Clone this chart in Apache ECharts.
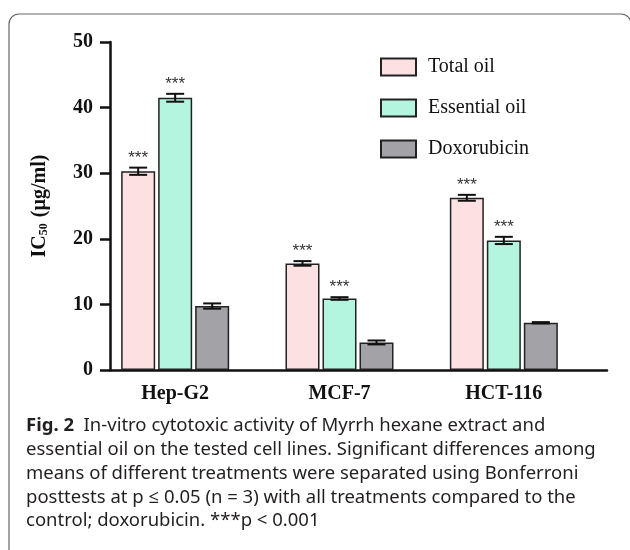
<!DOCTYPE html>
<html lang="en">
<head>
    <meta charset="UTF-8">
    <title>IC50</title>
    <script src="https://cdn.jsdelivr.net/npm/echarts@6/dist/echarts.min.js"></script>
    <style>
        html, body { margin: 0; padding: 0; background: #fff; }
        #main { width: 630px; height: 550px; }
    </style>
</head>
<body>
<div id="main"></div>
<script>
    // data
    var categories = ['Hep-G2', 'MCF-7', 'HCT-116'];
    var totalOil = [30.3, 16.25, 26.25];
    var essentialOil = [41.5, 10.9, 19.75];
    var doxorubicin = [9.75, 4.2, 7.2];
    var totalOilErr = [0.55, 0.35, 0.45];
    var essentialOilErr = [0.6, 0.2, 0.55];
    var doxorubicinErr = [0.4, 0.3, 0.1];
    var totalOilSig = ['***', '***', '***'];
    var essentialOilSig = ['***', '***', '***'];
    var doxorubicinSig = ['', '', ''];
    var yTicks = [0, 10, 20, 30, 40, 50];

    var captionLines = [
        '{b|Fig. 2}  In-vitro cytotoxic activity of Myrrh hexane extract and',
        'essential oil on the tested cell lines. Significant differences among',
        'means of different treatments were separated using Bonferroni',
        'posttests at p \u2264 0.05 (n = 3) with all treatments compared to the',
        'control; doxorubicin. ***p < 0.001'
    ];

    var serif = '"Liberation Serif", "Times New Roman", serif';
    var capFont = '"Noto Sans", "Open Sans", sans-serif';
    var barW = 34, barGapPx = 3;

    function errData(vals, errs, sig) {
        var out = [];
        for (var i = 0; i < vals.length; i++) {
            out.push([i, vals[i], errs[i], sig[i]]);
        }
        return out;
    }

    function makeErr(slot) {
        return function (params, api) {
            var c = api.coord([api.value(0), api.value(1)]);
            var x = c[0] + slot * (barW + barGapPx);
            var e = api.value(2);
            var top = api.coord([api.value(0), api.value(1) + e])[1];
            var bot = api.coord([api.value(0), api.value(1) - e])[1];
            var st = { stroke: '#111', lineWidth: 2 };
            var kids = [
                { type: 'line', shape: { x1: x, y1: top, x2: x, y2: bot }, style: st },
                { type: 'line', shape: { x1: x - 9, y1: top, x2: x + 9, y2: top }, style: st },
                { type: 'line', shape: { x1: x - 9, y1: bot, x2: x + 9, y2: bot }, style: st }
            ];
            var s = api.value(3);
            if (s) {
                kids.push({
                    type: 'text',
                    style: {
                        text: s, x: x, y: top - 1,
                        align: 'center', verticalAlign: 'bottom',
                        font: '17px "Liberation Sans", Arial, sans-serif',
                        fill: '#333'
                    }
                });
            }
            return { type: 'group', children: kids };
        };
    }

    var myChart = echarts.init(document.getElementById('main'));

    var graphics = [
        {
            type: 'rect',
            shape: { x: 9, y: 14, width: 622, height: 560, r: 10 },
            style: { fill: 'none', stroke: '#666', lineWidth: 1.2 },
            z: -10
        }
    ];
    for (var i = 0; i < captionLines.length; i++) {
        graphics.push({
            type: 'text',
            x: 26,
            y: 426 + i * 23.8,
            style: {
                text: captionLines[i],
                font: '18.5px ' + capFont,
                fill: '#231f20',
                verticalAlign: 'middle',
                rich: {
                    b: { font: 'bold 18.5px ' + capFont, fill: '#231f20' }
                }
            }
        });
    }

    var option = {
        backgroundColor: '#fff',
        animation: false,
        graphic: graphics,
        legend: {
            orient: 'vertical',
            left: 375,
            top: 52,
            itemWidth: 35,
            itemHeight: 17,
            itemGap: 21,
            icon: 'rect',
            textStyle: {
                fontFamily: serif,
                fontSize: 20,
                color: '#111',
                padding: [0, 0, 0, 7]
            },
            data: ['Total oil', 'Essential oil', 'Doxorubicin']
        },
        grid: [
            { left: 93, width: 493, top: 42, bottom: 180 },
            { left: 110, right: 23, top: 42, bottom: 180 }
        ],
        xAxis: [
            {
                type: 'category',
                gridIndex: 0,
                data: categories,
                axisLine: { show: false },
                axisTick: { show: false },
                axisLabel: {
                    margin: 14,
                    fontFamily: serif,
                    fontWeight: 'bold',
                    fontSize: 20,
                    color: '#111'
                }
            },
            {
                type: 'value',
                gridIndex: 1,
                min: 0,
                max: 1,
                axisLine: { show: true, lineStyle: { color: '#111', width: 2.5 } },
                axisTick: { show: false },
                axisLabel: { show: false },
                splitLine: { show: false }
            }
        ],
        yAxis: [
            {
                type: 'value',
                gridIndex: 0,
                min: 0,
                max: 50,
                show: false
            },
            {
                type: 'value',
                gridIndex: 1,
                min: 0,
                max: 50,
                interval: 10,
                name: '{a|IC}{s|50}{a| (\u00b5g/ml)}',
                nameLocation: 'middle',
                nameRotate: 90,
                nameGap: 60,
                nameTextStyle: {
                    rich: {
                        a: { fontFamily: serif, fontWeight: 'bold', fontSize: 20, color: '#111' },
                        s: { fontFamily: serif, fontWeight: 'bold', fontSize: 12, color: '#111', padding: [7, 1, 0, 0] }
                    }
                },
                axisLine: { show: true, lineStyle: { color: '#111', width: 2.5 } },
                axisTick: { show: true, length: 10, lineStyle: { color: '#111', width: 2.5 } },
                axisLabel: {
                    margin: 17,
                    fontFamily: serif,
                    fontWeight: 'bold',
                    fontSize: 20,
                    color: '#111',
                    formatter: function (v) { return yTicks.indexOf(v) >= 0 ? String(v) : ''; }
                },
                splitLine: { show: false }
            }
        ],
        series: [
            {
                name: 'Total oil',
                type: 'bar',
                xAxisIndex: 0, yAxisIndex: 0,
                barWidth: barW,
                barGap: (barGapPx / barW * 100) + '%',
                data: totalOil,
                itemStyle: { color: '#fde0e1', borderColor: '#222', borderWidth: 1.5 }
            },
            {
                name: 'Essential oil',
                type: 'bar',
                xAxisIndex: 0, yAxisIndex: 0,
                barWidth: barW,
                barGap: (barGapPx / barW * 100) + '%',
                data: essentialOil,
                itemStyle: { color: '#b3f5df', borderColor: '#222', borderWidth: 1.5 }
            },
            {
                name: 'Doxorubicin',
                type: 'bar',
                xAxisIndex: 0, yAxisIndex: 0,
                barWidth: barW,
                barGap: (barGapPx / barW * 100) + '%',
                data: doxorubicin,
                itemStyle: { color: '#a2a2a7', borderColor: '#222', borderWidth: 1.5 }
            },
            {
                type: 'custom', xAxisIndex: 0, yAxisIndex: 0, z: 5,
                renderItem: makeErr(-1),
                data: errData(totalOil, totalOilErr, totalOilSig)
            },
            {
                type: 'custom', xAxisIndex: 0, yAxisIndex: 0, z: 5,
                renderItem: makeErr(0),
                data: errData(essentialOil, essentialOilErr, essentialOilSig)
            },
            {
                type: 'custom', xAxisIndex: 0, yAxisIndex: 0, z: 5,
                renderItem: makeErr(1),
                data: errData(doxorubicin, doxorubicinErr, doxorubicinSig)
            }
        ]
    };
    myChart.setOption(option);
</script>
</body>
</html>
